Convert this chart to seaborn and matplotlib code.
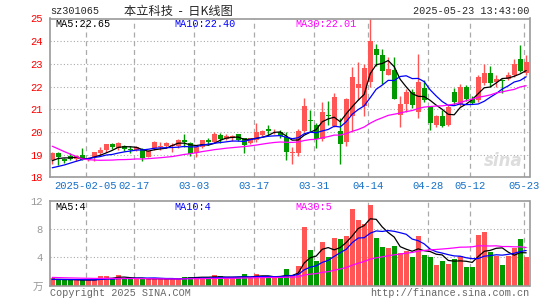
import numpy as np
import pandas as pd
import matplotlib
matplotlib.use('Agg')
import matplotlib.pyplot as plt
import seaborn as sns

# 日K 数据 (2025-01-20 ~ 2025-05-23, 80 个交易日)
open_ = [18.75, 19.07, 18.82, 18.95, 18.82, 19.00, 18.78, 18.90, 19.05, 19.22,
         19.47, 19.30, 19.40, 19.23, 19.20, 19.25, 18.90, 19.30, 19.35, 19.40,
         19.37, 19.37, 19.63, 19.51, 19.07, 19.34, 19.63, 19.56, 19.88, 19.70,
         19.72, 19.90, 19.73, 19.49, 19.63, 19.85, 20.12, 20.08, 20.00, 19.78,
         19.07, 19.07, 20.06, 20.53, 20.32, 19.69, 20.75, 20.28, 20.03, 19.54,
         20.72, 21.93, 21.16, 22.20, 23.66, 23.41, 22.53, 22.74, 20.75, 21.24,
         21.75, 20.87, 21.95, 21.10, 20.30, 20.72, 20.30, 21.75, 21.25, 22.00,
         21.45, 21.40, 22.17, 22.60, 22.20, 22.27, 22.35, 22.50, 23.20, 22.60]
close = [19.07, 18.90, 18.72, 18.82, 18.92, 18.78, 18.85, 19.10, 19.20, 19.45,
         19.33, 19.52, 19.23, 19.20, 19.33, 18.85, 19.15, 19.54, 19.38, 19.50,
         19.44, 19.66, 19.55, 19.01, 19.34, 19.63, 19.56, 19.93, 19.70, 19.81,
         19.80, 19.63, 19.41, 19.73, 20.00, 20.05, 20.03, 20.10, 19.81, 19.12,
         19.13, 20.06, 21.16, 20.46, 19.69, 20.87, 20.69, 21.53, 19.47, 21.43,
         22.44, 22.12, 22.82, 24.03, 23.41, 22.70, 22.78, 21.46, 21.24, 21.75,
         21.20, 22.20, 21.40, 20.40, 20.70, 20.28, 21.10, 21.30, 22.00, 21.46,
         21.27, 22.40, 22.60, 22.17, 22.35, 22.25, 22.50, 23.00, 22.70, 23.08]
high = [19.12, 19.10, 18.85, 19.05, 18.98, 19.30, 18.88, 19.12, 19.32, 19.47,
        19.50, 19.55, 19.42, 19.40, 19.38, 19.30, 19.20, 19.60, 19.55, 19.55,
        19.52, 19.70, 19.93, 19.56, 19.35, 19.65, 19.73, 20.00, 19.96, 19.93,
        19.85, 19.92, 19.75, 19.75, 20.40, 20.10, 20.30, 20.12, 20.08, 20.00,
        19.32, 20.13, 21.50, 20.98, 20.40, 21.30, 21.35, 21.72, 20.60, 21.50,
        22.85, 23.07, 23.00, 25.00, 23.88, 23.66, 23.30, 23.30, 21.60, 21.90,
        21.90, 23.42, 22.27, 21.10, 20.75, 20.95, 21.20, 21.95, 22.10, 22.05,
        21.60, 22.50, 23.00, 22.92, 22.50, 22.35, 22.65, 23.22, 23.82, 23.40]
low = [18.60, 18.55, 18.65, 18.78, 18.70, 18.75, 18.70, 18.72, 19.00, 19.10,
       19.25, 19.20, 19.15, 19.05, 19.15, 18.72, 18.90, 19.20, 19.20, 19.30,
       19.12, 19.30, 19.35, 18.92, 18.90, 19.30, 19.41, 19.49, 19.49, 19.63,
       19.60, 19.60, 19.07, 19.45, 19.55, 19.80, 19.80, 19.90, 19.75, 18.75,
       18.60, 18.95, 20.00, 20.06, 19.28, 19.60, 20.30, 20.20, 18.60, 19.40,
       20.00, 21.40, 20.70, 22.00, 22.90, 22.10, 22.50, 21.46, 20.20, 20.90,
       21.05, 20.60, 21.30, 20.10, 20.20, 20.20, 20.25, 21.20, 21.15, 21.38,
       21.23, 21.33, 22.05, 21.98, 21.98, 21.70, 22.27, 22.42, 22.65, 22.50]
# 成交量 (万手)
volume = [1.10, 0.80, 0.80, 0.80, 0.80, 0.80, 0.80, 0.80, 1.35, 1.35,
          0.95, 1.50, 0.95, 0.95, 1.10, 0.95, 0.95, 0.95, 0.95, 0.95,
          0.95, 0.95, 1.30, 1.30, 1.30, 1.15, 0.95, 1.50, 1.35, 1.10,
          1.10, 1.10, 1.70, 1.10, 1.70, 1.35, 1.10, 1.10, 1.30, 2.30,
          1.40, 2.80, 8.30, 5.00, 3.50, 6.20, 4.00, 6.70, 6.60, 7.10,
          10.8, 9.30, 8.80, 11.4, 6.70, 5.45, 5.30, 5.60, 4.60, 4.90,
          4.00, 7.00, 4.30, 4.00, 3.00, 3.50, 3.10, 3.80, 4.20, 2.70,
          2.70, 7.20, 7.60, 4.80, 4.20, 3.00, 4.20, 5.40, 6.60, 4.10]

# 图中第一天之前的 29 天 (只用于均线起点)
pre_close = [22.4, 22.3, 22.1, 22.2, 22.0, 19.8, 19.6, 19.5, 19.3, 19.2,
             19.0, 19.1, 18.9, 18.8, 18.9, 18.7, 18.9, 18.8, 18.7, 18.7,
             18.3, 18.1, 18.0, 18.1, 18.05, 18.4, 18.6, 18.8, 18.78]
pre_volume = [1.6, 1.5, 1.4, 1.3, 1.5, 1.2, 1.3, 1.4, 1.1, 1.2,
              1.3, 1.4, 1.2, 1.3, 1.2, 1.3, 1.2, 1.4, 1.2, 1.3,
              0.9, 0.8, 0.9, 0.8, 1.0, 0.8, 0.9, 0.85, 0.85]

tick_idx = [6, 14, 24, 34, 44, 53, 63, 70, 79]
tick_labels = ['2025-02-05', '02-17', '03-03', '03-17', '03-31',
               '04-14', '04-28', '05-12', '05-23']

price_ma_text = ['MA5:22.65', 'MA10:22.40', 'MA30:22.01']
vol_ma_text = ['MA5:4', 'MA10:4', 'MA30:5']

RED = '#ff5555'
GREEN = '#009a00'
GRID = '#aaaaaa'
ma_colors = ['black', '#0000ff', '#ff00ff']

df = pd.DataFrame({'open': open_, 'high': high, 'low': low,
                   'close': close, 'volume': volume})
df['idx'] = np.arange(len(df))
df['color'] = np.where(df['close'] >= df['open'], RED, GREEN)

n_pre = len(pre_close)
all_close = pd.Series(pre_close + close)
all_vol = pd.Series(pre_volume + volume)
for n in [5, 10, 30]:
    df[f'ma{n}'] = all_close.rolling(n).mean().iloc[n_pre:].values
    df[f'vma{n}'] = all_vol.rolling(n).mean().iloc[n_pre:].values

sns.set_style('white')
plt.rcParams['font.family'] = ['Liberation Mono', 'Noto Sans CJK SC', 'DejaVu Sans']

fig = plt.figure(figsize=(5.45, 3.0), dpi=100)
ax = fig.add_axes([50 / 545, 1 - 177.3 / 300, 479.5 / 545, (177.3 - 18.5) / 300])
axv = fig.add_axes([50 / 545, 1 - 285.7 / 300, 479.5 / 545, (285.7 - 201) / 300])

xmin, xmax = -0.37, 79.55
grid_x = [t - 0.4 for t in tick_idx]

# 网格
for a in [ax, axv]:
    for gx in grid_x:
        a.axvline(gx, color=GRID, lw=0.9, ls=(0, (4, 3)), zorder=0)
for y in range(19, 25):
    ax.axhline(y, color=GRID, lw=0.8, ls=(0, (1, 2)), zorder=0)
for y in [4, 8]:
    axv.axhline(y, color=GRID, lw=0.8, ls=(0, (1, 2)), zorder=0)

# K线
ax.vlines(df['idx'], df['low'], df['high'], colors=df['color'], lw=1, zorder=2)
body = np.maximum((df['close'] - df['open']).abs(), 0.02)
ax.bar(df['idx'], body, bottom=df[['open', 'close']].min(axis=1),
       width=0.78, color=df['color'], lw=0, zorder=2)

axv.bar(df['idx'], df['volume'], width=0.78, color=df['color'], lw=0, zorder=2)

# 均线
for n, c in zip([5, 10, 30], ma_colors):
    sns.lineplot(x=df['idx'], y=df[f'ma{n}'], ax=ax, color=c, lw=0.9, zorder=3)
    sns.lineplot(x=df['idx'], y=df[f'vma{n}'], ax=axv, color=c, lw=0.9, zorder=3)

ax.set_xlim(xmin, xmax)
ax.set_ylim(18, 25)
axv.set_xlim(xmin, xmax)
axv.set_ylim(0, 12)

ax.set_yticks(range(18, 26))
ax.set_yticklabels([str(v) for v in range(18, 26)])
ax.tick_params(axis='y', length=0, pad=5, labelcolor='red', labelsize=7.6)
ax.set_xticks(grid_x)
ax.set_xticklabels(tick_labels)
ax.tick_params(axis='x', length=0, pad=3, labelcolor='#1670c8', labelsize=7.6)

axv.set_yticks([0, 4, 8, 12])
axv.set_yticklabels(['万', '4', '8', '12'])
axv.tick_params(axis='y', length=0, pad=5, labelcolor='#999999', labelsize=7.6)
axv.set_xticks([])

for a in [ax, axv]:
    a.set_xlabel('')
    a.set_ylabel('')
    for s in a.spines.values():
        s.set_color('#999999')
        s.set_linewidth(1.2)

# 均线图例
for txt, xpos, c in zip(price_ma_text, [55, 174, 295], ma_colors):
    ax.text((xpos - 50) / 479.5, 0.995, txt, transform=ax.transAxes,
            color=c, fontsize=7.3, va='top', ha='left')
for txt, xpos, c in zip(vol_ma_text, [55, 174, 295], ma_colors):
    axv.text((xpos - 50) / 479.5, 0.985, txt, transform=axv.transAxes,
             color=c, fontsize=7.3, va='top', ha='left')

ax.text(0.985, 0.1, 'sina', transform=ax.transAxes, color='#dddddd',
        fontsize=12, fontweight='bold', style='italic', ha='right', va='center',
        family='DejaVu Sans', zorder=1)

fig.text(50 / 545, 1 - 11 / 300, 'sz301065', fontsize=7.3, va='center', ha='left')
fig.text(178 / 545, 1 - 11 / 300, '本立科技  -  日K线图', fontsize=8.8,
         va='center', ha='center', family=['Noto Sans CJK SC', 'DejaVu Sans'])
fig.text(529 / 545, 1 - 11 / 300, '2025-05-23 13:43:00', fontsize=7.3,
         va='center', ha='right')
fig.text(50 / 545, 1 - 293 / 300, 'Copyright 2025 SINA.COM', fontsize=7.3,
         va='center', ha='left', color='#666666')
fig.text(529 / 545, 1 - 293 / 300, 'http://finance.sina.com.cn', fontsize=7.3,
         va='center', ha='right', color='#666666')

fig.savefig('out.png', dpi=100)
